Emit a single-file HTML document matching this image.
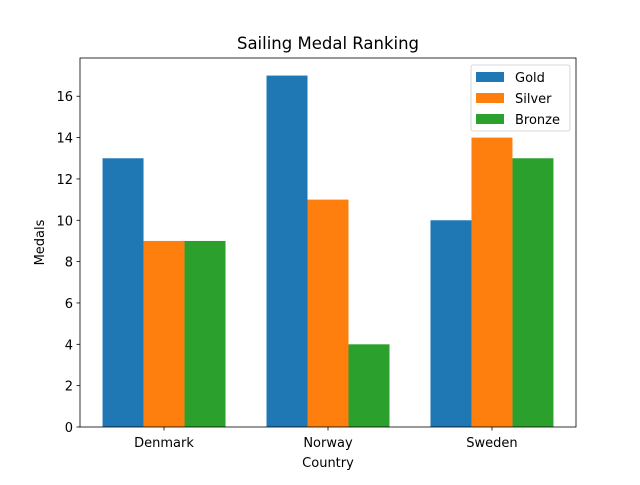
<!DOCTYPE html>
<html><head><meta charset="utf-8"><style>
body{margin:0;background:#fff;}
svg text{font-family:"DejaVu Sans","Liberation Sans",sans-serif;fill:#000;}
</style></head><body>
<svg id="chart" width="640" height="480" xmlns="http://www.w3.org/2000/svg">
<rect width="640" height="480" fill="#fff"/>
<text x="328" y="49" font-size="16.5" text-anchor="middle">Sailing Medal Ranking</text>
<g id="bars"></g>
<g id="axes"></g>
</svg>
<script>
const categories=["Denmark","Norway","Sweden"];
const seriesNames=["Gold","Silver","Bronze"];
const gold=[13,17,10];
const silver=[9,11,14];
const bronze=[9,4,13];
const yTicks=[0,2,4,6,8,10,12,14,16];
const colors=["#1f77b4","#ff7f0e","#2ca02c"];
const series=[gold,silver,bronze];
const L=80,R=576,T=58,B=427;
const xmin=-0.5125,xmax=2.5125,ymax=17.85;
const sx=v=>L+(v-xmin)/(xmax-xmin)*(R-L);
const sy=v=>B-v/ymax*(B-T);
const NS="http://www.w3.org/2000/svg";
function mk(tag,attrs,parent){const e=document.createElementNS(NS,tag);for(const k in attrs)e.setAttribute(k,attrs[k]);parent.appendChild(e);return e;}
const bars=document.getElementById('bars'),axes=document.getElementById('axes');
const w=0.25;
series.forEach((s,si)=>{s.forEach((v,ci)=>{
 const x0=sx(ci+(si-1)*w-w/2),x1=sx(ci+(si-1)*w+w/2);
 const r=mk('rect',{x:x0,y:sy(v),width:x1-x0,height:B-sy(v),fill:colors[si]},bars);
 
 
});});
const frame=mk('rect',{x:L,y:T,width:R-L,height:B-T,fill:'none',stroke:'#000','stroke-width':0.8},axes);


yTicks.forEach(t=>{
 const y=sy(t);
 mk('line',{x1:L-3.5,x2:L,y1:y,y2:y,stroke:'#000','stroke-width':0.8},axes);
 const tx=mk('text',{x:L-7,y:y+5,'font-size':13,'text-anchor':'end'},axes);tx.textContent=t;
 
 
});
categories.forEach((c,i)=>{
 const x=sx(i);
 mk('line',{x1:x,x2:x,y1:B,y2:B+3.5,stroke:'#000','stroke-width':0.8},axes);
 const tx=mk('text',{x:x,y:B+20,'font-size':13,'text-anchor':'middle'},axes);tx.textContent=c;
 
 
});
const xl=mk('text',{x:(L+R)/2,y:467,'font-size':13,'text-anchor':'middle'},axes);xl.textContent='Country';


const yl=mk('text',{x:0,y:0,'font-size':13,'text-anchor':'middle',transform:'translate(44,'+((T+B)/2)+') rotate(-90)'},axes);yl.textContent='Medals';


const lg=mk('g',{},axes);


mk('rect',{x:471,y:65,width:99,height:66,rx:2,fill:'#fff','fill-opacity':0.8,stroke:'#ccc','stroke-width':0.8},lg);
seriesNames.forEach((n,i)=>{
 const y=71+i*21;
 const sw=mk('rect',{x:476,y:y+1,width:28,height:10,fill:colors[i]},lg);
 
 
 const t=mk('text',{x:515,y:y+11,'font-size':13},lg);t.textContent=n;
 
 
});
</script>
</body></html>
